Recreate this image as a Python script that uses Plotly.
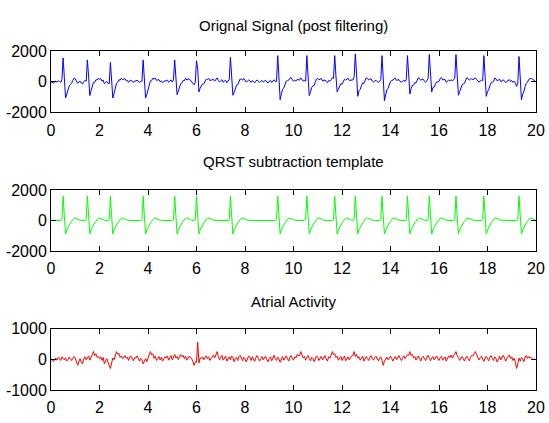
import numpy as np
import plotly.graph_objects as go

# ---------------- data ----------------
DT = 0.05  # sample spacing of all signals, seconds

# beat (R-peak) times, seconds
beat_times = [0.50, 1.50, 2.45, 3.80, 5.10, 6.00, 7.40, 9.35, 10.55, 11.70,
              12.55, 13.65, 14.70, 15.60, 16.70, 17.85, 19.30]
# per-beat R peak / S trough of the original signal
orig_r = [1550, 1420, 1260, 1420, 1420, 1370, 1590, 1700, 1700, 1700,
          1810, 1700, 1700, 1770, 1770, 1700, 1640]
orig_s = [-1060, -900, -1060, -1060, -840, -660, -880, -1170, -900, -660,
          -950, -1240, -800, -660, -880, -950, -1170]

# QRST template shape, one value per sample from R-0.10 s to R+0.75 s
qrst_shape = [0, 60, 1600, 300, -880, -620, -430, -290, -160, -50,
              60, 150, 160, 140, 100, 60, 20, 0]
shape_r_index = 2
shape_s_index = 4

# atrial activity, one value per 0.05 s (one row per second)
atrial = [
    0, -60, -80, -20, 40, -30, 60, 20, -40, 80, 30, -20, 50, -60, -10, 70, 20, -40, 30, 90,
    40, -60, -200, -80, 20, -90, -150, 10, 80, -20, 60, 110, -30, 40, 150, 250, 120, 180, 60, 90,
    20, 80, -40, 60, -150, -60, 20, -100, -180, -300, -120, 40, -20, 120, 250, 160, 190, 60, 110, 20,
    90, 120, 30, 70, -40, 80, 100, 20, -50, 60, 40, 110, 0, -60, 30, -20, -150, -40, 20, -80,
    60, 150, 250, 140, 180, 30, 100, -40, 20, 90, -20, 60, -60, 10, 80, 40, 110, -30, 50, 120,
    -20, 70, 160, 40, 90, -10, 60, 150, 80, 130, 20, 100, -30, 60, 100, 40, 20, -60, -200, -80,
    -100, 560, -120, 40, 20, 80, -20, 60, 110, 20, 80, -40, 30, 90, 140, 40, 120, 250, 90, -20,
    60, 130, -30, 40, 100, -60, 20, 80, -20, 110, 50, -80, 30, 60, -40, 90, 130, 10, -50, 70,
    20, -90, 40, 110, 60, -40, 80, 20, -70, 50, 120, 30, -60, 20, 90, -20, 40, 100, -10, -80,
    30, 80, -50, 60, 130, 20, -40, 70, 10, -100, 40, 90, -30, 50, 110, 20, -60, 60, 120, 30,
    -30, 80, 40, 150, 130, 110, 250, 160, 40, 90, -30, 60, 120, 20, -50, 70, 30, -80, 40, 110,
    60, -40, 30, 100, -20, 50, 120, 10, -60, 80, 40, 130, 250, 150, 180, 60, 100, -30, 40, 90,
    -40, 30, 100, -50, 20, 80, -20, 40, 110, 120, 250, 90, 160, 40, 80, -30, 50, 100, -60, 20,
    90, 30, -40, 70, 120, 20, -30, 60, 100, 10, -50, 40, 80, -40, -200, -60, 20, 70, -20, 50,
    100, 20, -60, 40, 90, -20, 60, 120, 30, -40, 50, 110, 20, 80, 150, 130, 250, 120, 160, 40,
    90, -30, 40, 110, 20, -60, 60, 100, 10, -40, 70, 130, 30, -50, 40, 90, -20, 60, 110, 20,
    -40, 50, 100, -30, 20, 80, -60, 30, 110, 60, 140, 40, 120, 160, 250, 110, 60, -40, 30, 90,
    20, -60, 40, 100, 30, -50, 60, 130, 110, 180, 250, 150, 80, -20, 50, 100, 10, -70, 40, 90,
    20, -50, 60, 120, 30, -40, 80, 20, -90, 40, 100, -20, 50, 130, 40, -60, 30, 90, 140, 20,
    80, -40, 30, -100, -300, -150, 40, -60, 60, 20, -80, 70, 120, 30, 90, 40, 60, 20, -10, 10,
]

titles = ["Orignal Signal (post filtering)", "QRST subtraction template", "Atrial Activity"]
x_ticks = [0, 2, 4, 6, 8, 10, 12, 14, 16, 18, 20]
y_ticks_big = [-2000, 0, 2000]
y_ticks_small = [-1000, 0, 1000]

# ---------------- build signals ----------------
n = len(atrial)
t = np.arange(n) * DT
shape = np.array(qrst_shape, dtype=float)
atrial_arr = np.array(atrial, dtype=float)
template = np.zeros(n)
original = atrial_arr.copy()
pos_scale = shape[shape_r_index]
neg_scale = -shape[shape_s_index]
for bt, r, s in zip(beat_times, orig_r, orig_s):
    i0 = int(round(bt / DT)) - shape_r_index
    for k, v in enumerate(shape):
        j = i0 + k
        if 0 <= j < n:
            template[j] += v
            original[j] += v * (r / pos_scale) if v > 0 else v * (-s / neg_scale)
    # R peak and S trough of the original as read
    original[i0 + shape_r_index] = r
    original[i0 + shape_s_index] = s

# ---------------- figure ----------------
FONT = "Liberation Sans, Arial"
fig = go.Figure()
fig.add_trace(go.Scatter(x=t, y=original, mode="lines", line=dict(color="#0000FF", width=1),
                         xaxis="x", yaxis="y", showlegend=False))
fig.add_trace(go.Scatter(x=t, y=template, mode="lines", line=dict(color="#00FF00", width=1),
                         xaxis="x2", yaxis="y2", showlegend=False))
fig.add_trace(go.Scatter(x=t, y=atrial_arr, mode="lines", line=dict(color="#FF0000", width=1),
                         xaxis="x3", yaxis="y3", showlegend=False))

domains = [[0.8186, 1.0], [0.410, 0.590], [0.0, 0.1814]]
common = dict(ticks="inside", ticklen=5, tickwidth=1, tickcolor="black",
              showline=True, linecolor="black", linewidth=1, mirror="ticks",
              showgrid=False, zeroline=False, automargin=False,
              tickfont=dict(family=FONT, size=16, color="black"))
layout = dict(width=549, height=423, paper_bgcolor="white", plot_bgcolor="white",
              margin=dict(l=51, r=13, t=51, b=33), showlegend=False)
yt = [y_ticks_big, y_ticks_big, y_ticks_small]
for i in range(3):
    sx = "" if i == 0 else str(i + 1)
    anchor = "y" + sx
    layout["xaxis" + sx] = dict(common, domain=[0, 1], anchor=anchor, range=[0, 20],
                                tickvals=x_ticks, ticktext=[str(v) for v in x_ticks],
                                ticklabelstandoff=3)
    layout["yaxis" + sx] = dict(common, domain=domains[i], anchor="x" + sx,
                                range=[yt[i][0], yt[i][-1]],
                                tickvals=yt[i], ticktext=[str(v) for v in yt[i]],
                                ticklabelstandoff=0)
fig.update_layout(**layout)

title_y = [1.074, 0.6755, 0.2625]
for ttl, ty in zip(titles, title_y):
    fig.add_annotation(text=ttl, x=0.5, y=ty, xref="paper", yref="paper",
                       xanchor="center", yanchor="middle", showarrow=False,
                       font=dict(family=FONT, size=15, color="black"))

# remove the page's default body margin so the figure fills the window exactly
fig.write_html("out.html",
               config={"displayModeBar": False},
               post_script="document.body.style.margin='0px';document.body.style.overflow='hidden';")
